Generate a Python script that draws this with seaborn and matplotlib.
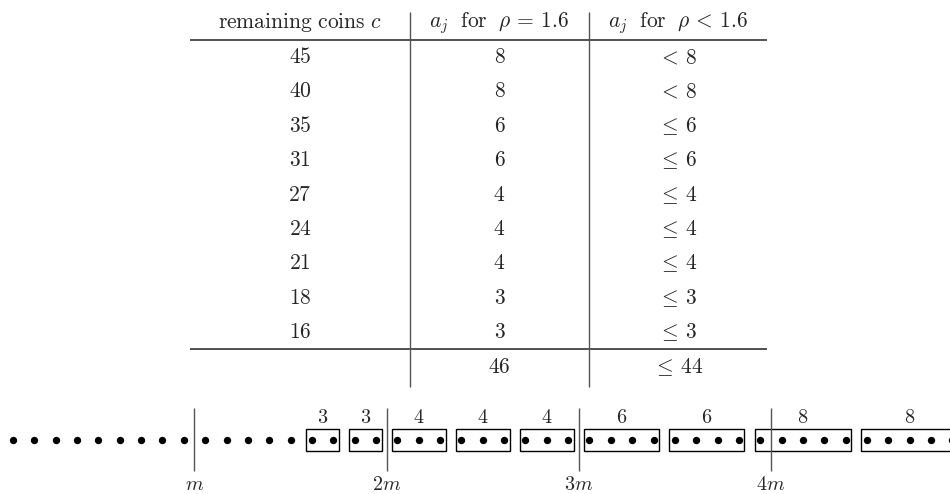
import numpy as np
import pandas as pd
import matplotlib
matplotlib.use('Agg')
from matplotlib import pyplot as plt
from matplotlib.patches import Rectangle
import seaborn as sns

# table data
headers = [r'$\mathrm{remaining\ coins}\ c$', r'$a_j\ \ \mathrm{for}\ \ \rho \,=\, 1.6$', r'$a_j\ \ \mathrm{for}\ \ \rho \,<\, 1.6$']
remaining = [45, 40, 35, 31, 27, 24, 21, 18, 16]
a_rho16 = [8, 8, 6, 6, 4, 4, 4, 3, 3]
rel_less = ['<', '<', r'\leq', r'\leq', r'\leq', r'\leq', r'\leq', r'\leq', r'\leq']
total_bound = 44

# coin diagram data
n_coins = 45
m = 9
multiples = [1, 2, 3, 4]
first_start = 14  # coins before the first box

# layout constants (pixels)
W, H = 950, 494
COL_EDGES = [190, 410, 589, 767]
ROW0_PX, ROW_PITCH = 22.6, 34.4
DOT_X0, DOT_PITCH = 13, 21.35
DOT_Y = 440
BOX_Y0, BOX_Y1 = 429, 451
LBL_Y = 417
VL_Y0, VL_Y1 = 408, 471
MLBL_Y = 484
FS = 15.5

sns.set_theme(style='white')
plt.rcParams['mathtext.fontset'] = 'cm'
plt.rcParams['font.family'] = ['DejaVu Serif']

fig = plt.figure(figsize=(W / 100, H / 100), dpi=100)

# table
ax_t = fig.add_axes([0, 0, 1, 1])
ax_t.set_xlim(0, W)
ax_t.set_ylim((H - ROW0_PX) / ROW_PITCH, -ROW0_PX / ROW_PITCH)
ax_t.axis('off')

centers = [(a + b) / 2 for a, b in zip(COL_EDGES[:-1], COL_EDGES[1:])]
for cx, h in zip(centers, headers):
    ax_t.text(cx, 0, h, ha='center', va='center', fontsize=FS)

df = pd.DataFrame({'c': remaining, 'a': a_rho16, 'rel': rel_less})
df['row'] = np.arange(1, len(df) + 1)
for _, r in df.iterrows():
    ax_t.text(centers[0], r.row, f'${r.c}$', ha='center', va='center', fontsize=FS)
    ax_t.text(centers[1], r.row, f'${r.a}$', ha='center', va='center', fontsize=FS)
    ax_t.text(centers[2], r.row, rf'${r.rel}\, {r.a}$', ha='center', va='center', fontsize=FS)

total_row = len(df) + 1
ax_t.text(centers[1], total_row, f'${df.a.sum()}$', ha='center', va='center', fontsize=FS)
ax_t.text(centers[2], total_row, rf'$\leq\, {total_bound}$', ha='center', va='center', fontsize=FS)

ax_t.hlines([0.5, len(df) + 0.5], COL_EDGES[0], COL_EDGES[-1], color='#222222', lw=1.1)
ax_t.vlines(COL_EDGES[1:3], -0.3, total_row + 0.6, color='#555555', lw=1.0)

# coin diagram
ax_d = fig.add_axes([0, 0, 1, 1])
ax_d.set_xlim(-DOT_X0 / DOT_PITCH, (W - DOT_X0) / DOT_PITCH)
ax_d.set_ylim(H, 0)
ax_d.axis('off')
ax_d.patch.set_alpha(0)

coins = np.arange(n_coins)
sns.scatterplot(x=coins, y=np.full(n_coins, DOT_Y), ax=ax_d, color='black',
                s=28, linewidth=0, legend=False)

ends = sorted(remaining)
starts = [first_start] + ends[:-1]
labels = a_rho16[::-1]
pad = 0.26
for s, e, lab in zip(starts, ends, labels):
    ax_d.add_patch(Rectangle((s - pad, BOX_Y0), (e - 1 - s) + 2 * pad, BOX_Y1 - BOX_Y0,
                             fill=False, ec='black', lw=1.0))
    ax_d.text((s + e - 1) / 2, LBL_Y, f'${lab}$', ha='center', va='center', fontsize=FS - 1)

marks = [m * j - 0.5 for j in multiples]
ax_d.vlines(marks, VL_Y0, VL_Y1, color='#555555', lw=1.0)
for j, xk in zip(multiples, marks):
    lab = '$m$' if j == 1 else f'${j}m$'
    ax_d.text(xk, MLBL_Y, lab, ha='center', va='center', fontsize=FS - 1)

fig.savefig('out.png', dpi=100)
